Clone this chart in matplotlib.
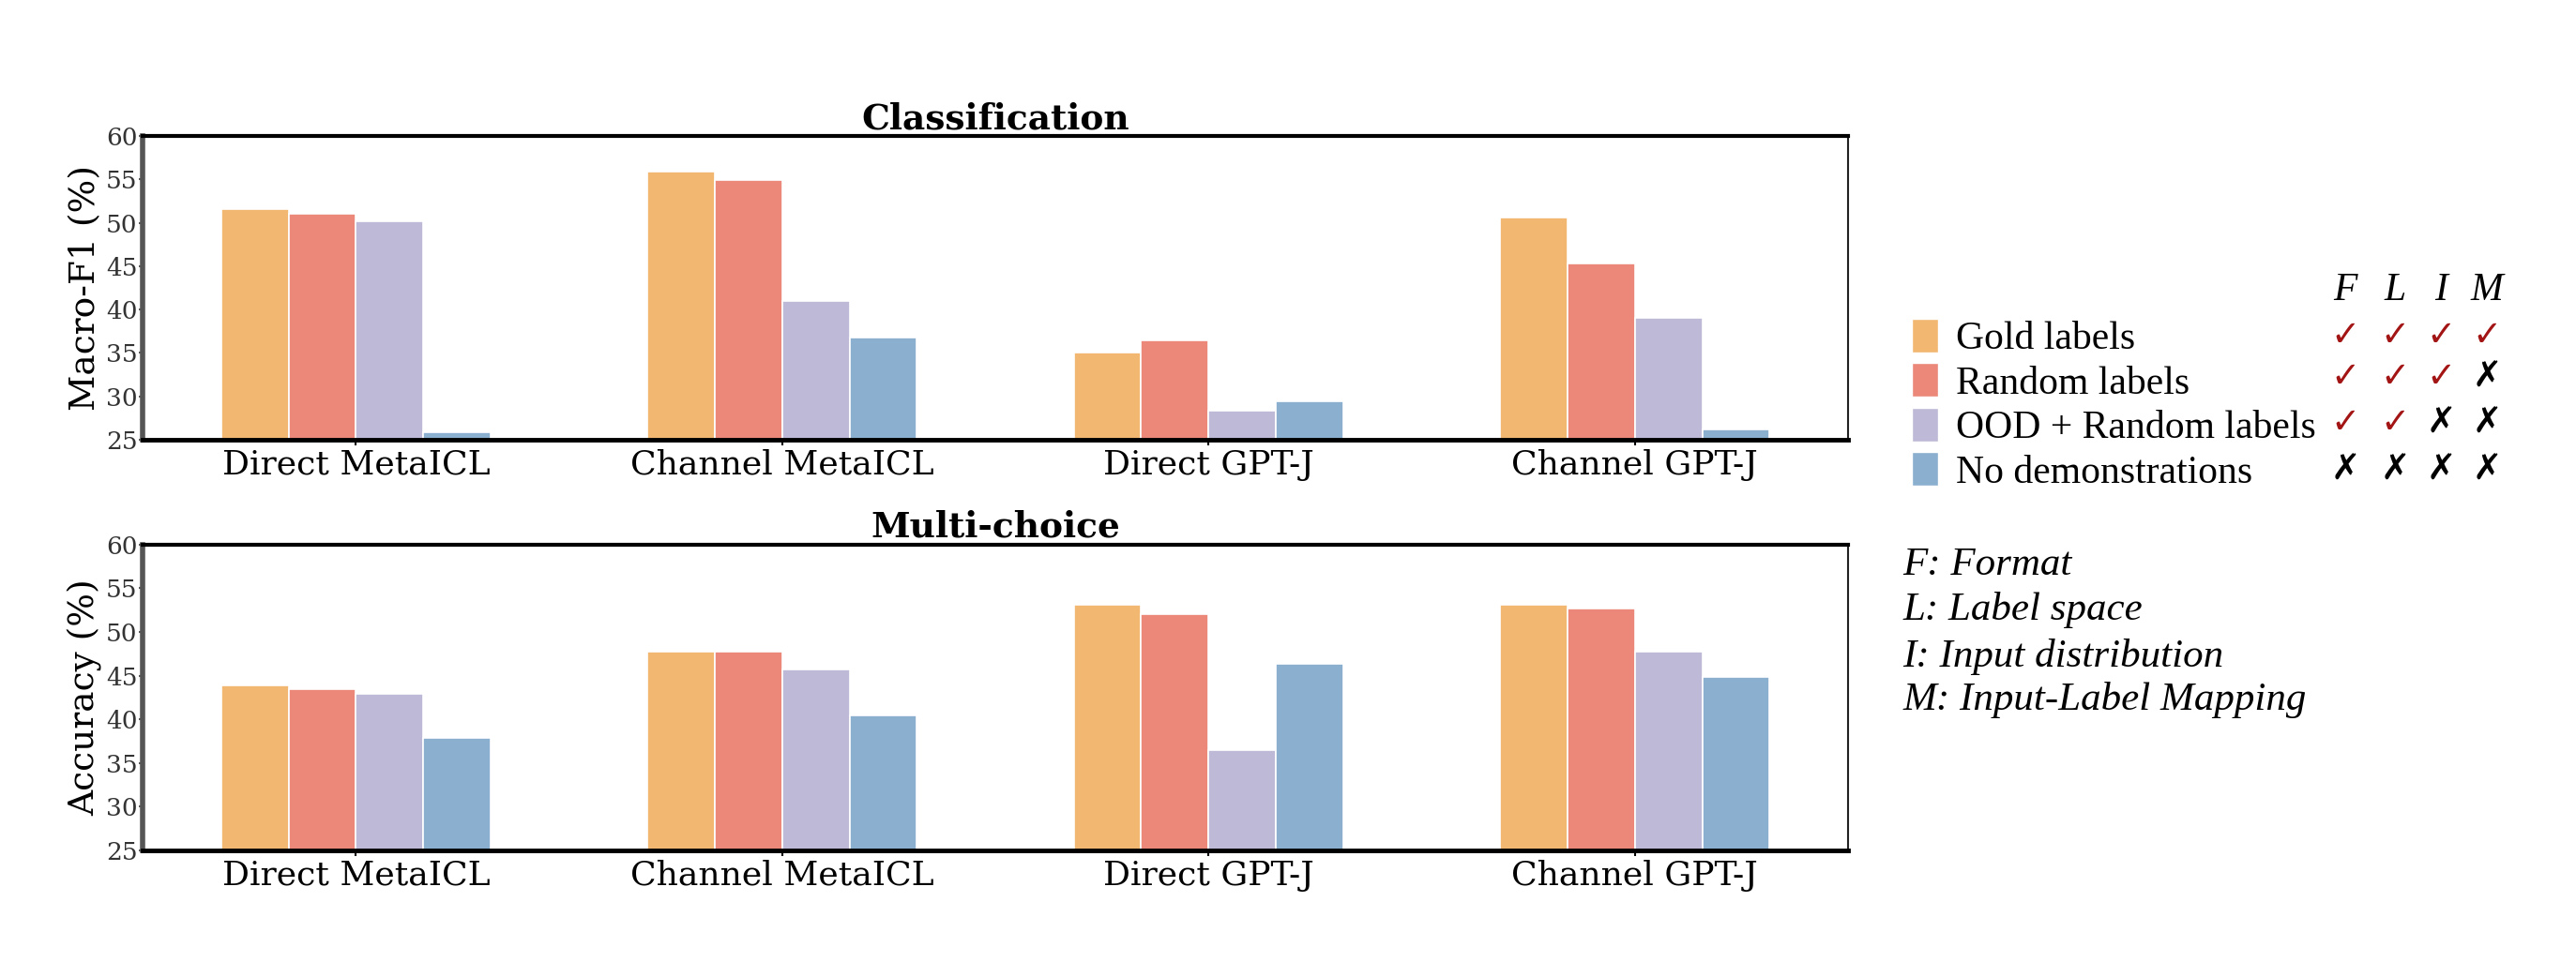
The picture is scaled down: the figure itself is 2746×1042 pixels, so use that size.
import matplotlib
matplotlib.use("Agg")
import matplotlib.pyplot as plt
import numpy as np
from matplotlib.patches import Patch

models = ["Direct MetaICL", "Channel MetaICL", "Direct GPT-J", "Channel GPT-J"]
settings = ["Gold labels", "Random labels", "OOD + Random labels", "No demonstrations"]
colors = ["#f2b770", "#eb8879", "#bdb9d7", "#8aafcf"]

# classification macro-F1, one list per setting
cls_gold = [51.6, 55.9, 35.1, 50.6]
cls_random = [51.0, 54.9, 36.5, 45.3]
cls_ood = [50.2, 41.0, 28.4, 39.0]
cls_none = [25.9, 36.8, 29.4, 26.2]

# multi-choice accuracy
mc_gold = [43.9, 47.8, 53.1, 53.1]
mc_random = [43.5, 47.8, 52.0, 52.7]
mc_ood = [42.9, 45.7, 36.5, 47.8]
mc_none = [37.9, 40.4, 46.4, 44.9]

# F L I M columns for each setting
aspects = ["F", "L", "I", "M"]
marks = [
    [1, 1, 1, 1],
    [1, 1, 1, 0],
    [1, 1, 0, 0],
    [0, 0, 0, 0],
]
definitions = ["F: Format", "L: Label space", "I: Input distribution", "M: Input-Label Mapping"]

fig = plt.figure(figsize=(27.46, 10.42), dpi=100)
ax1 = fig.add_axes([0.0554, 0.5499, 0.662, 0.3109])
ax2 = fig.add_axes([0.0554, 0.1296, 0.662, 0.3129])

x = np.arange(len(models))
width = 0.158


def draw(ax, series, title, ylabel):
    for i, vals in enumerate(series):
        ax.bar(x + (i - 1.5) * width, vals, width, color=colors[i],
               edgecolor="white", linewidth=1.2)
    ax.set_xlim(-0.5, 3.5)
    ax.set_ylim(25, 60)
    ax.set_yticks([25, 30, 35, 40, 45, 50, 55, 60])
    ax.set_xticks(x)
    ax.set_xticklabels(models, family="DejaVu Serif", fontsize=26)
    for lab in ax.get_yticklabels():
        lab.set_family("DejaVu Serif")
        lab.set_fontsize(19)
        lab.set_color("#333333")
    ax.tick_params(axis="y", length=3, width=1.5, pad=1, color="#555555")
    ax.tick_params(axis="x", length=4, width=1.5, pad=3)
    ax.set_ylabel(ylabel, family="DejaVu Serif", fontsize=27, labelpad=3)
    ax.set_title(title, family="DejaVu Serif", fontweight="bold", fontsize=27, pad=5)
    ax.spines["top"].set_linewidth(3)
    ax.spines["bottom"].set_linewidth(3.5)
    ax.spines["left"].set_linewidth(4)
    ax.spines["left"].set_color("#555555")
    ax.spines["right"].set_linewidth(1.5)
    ax.spines["right"].set_color("#222222")


draw(ax1, [cls_gold, cls_random, cls_ood, cls_none], "Classification", "Macro-F1 (%)")
draw(ax2, [mc_gold, mc_random, mc_ood, mc_none], "Multi-choice", "Accuracy (%)")

handles = [Patch(facecolor=c, edgecolor="white") for c in colors]
fig.legend(handles, settings, loc="upper left", bbox_to_anchor=(0.736, 0.69),
           frameon=False, prop={"family": "Liberation Serif", "size": 30},
           handlelength=0.68, handleheight=0.95, handletextpad=0.45,
           labelspacing=0.15, borderaxespad=0)

col_x = [2500, 2553, 2602, 2651]
row_y = [359, 403, 452, 502]
W, H = 2746, 1042
for j, a in enumerate(aspects):
    fig.text(col_x[j] / W, 1 - 310 / H, a, ha="center", va="center",
             family="Liberation Serif", style="italic", fontsize=30)
for r, row in enumerate(marks):
    for j, ok in enumerate(row):
        fig.text(col_x[j] / W, 1 - row_y[r] / H, "\u2713" if ok else "\u2717",
                 ha="center", va="center", family="DejaVu Sans", fontsize=27,
                 color="#a31414" if ok else "black")

def_y = [603, 651, 700, 747]
for k, d in enumerate(definitions):
    fig.text(2028 / W, 1 - def_y[k] / H, d, ha="left", va="center",
             family="Liberation Serif", style="italic", fontsize=31)

fig.savefig("out.png", dpi=100)
